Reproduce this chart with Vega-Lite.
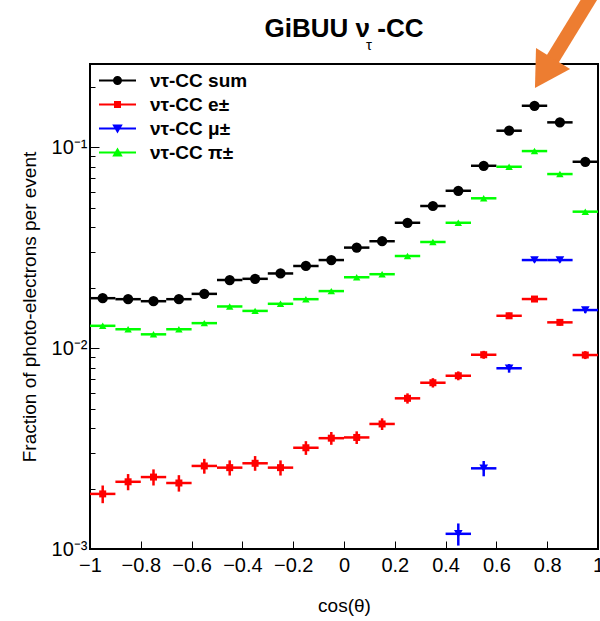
{
  "$schema": "https://vega.github.io/schema/vega-lite/v6.json",
  "width": 508,
  "height": 485,
  "autosize": {"type": "none"},
  "padding": {"left": 90, "top": 64, "right": 2, "bottom": 72},
  "background": "white",
  "config": {
    "view": {"stroke": "#000", "strokeWidth": 2},
    "font": "Liberation Sans"
  },
  "title": {
    "text": "GiBUU ν\u00a0-CC",
    "subtitle": "\u200b\u00a0\u00a0\u00a0\u00a0\u00a0\u00a0\u00a0\u00a0\u00a0\u00a0\u00a0\u00a0τ",
    "anchor": "middle",
    "frame": "group",
    "font": "Liberation Sans",
    "fontSize": 26,
    "fontWeight": "bold",
    "color": "#000",
    "subtitleFont": "Liberation Sans",
    "subtitleFontSize": 15,
    "subtitleColor": "#000",
    "subtitlePadding": -4,
    "offset": -70
  },
  "data": {
    "values": [
      {"s": "ντ-CC sum", "x": -0.95, "x0": -1, "x1": -0.9, "y": 0.0177},
      {"s": "ντ-CC sum", "x": -0.85, "x0": -0.9, "x1": -0.8, "y": 0.0175},
      {"s": "ντ-CC sum", "x": -0.75, "x0": -0.8, "x1": -0.7, "y": 0.0171},
      {"s": "ντ-CC sum", "x": -0.65, "x0": -0.7, "x1": -0.6, "y": 0.0175},
      {"s": "ντ-CC sum", "x": -0.55, "x0": -0.6, "x1": -0.5, "y": 0.0186},
      {"s": "ντ-CC sum", "x": -0.45, "x0": -0.5, "x1": -0.4, "y": 0.0218},
      {"s": "ντ-CC sum", "x": -0.35, "x0": -0.4, "x1": -0.3, "y": 0.0221},
      {"s": "ντ-CC sum", "x": -0.25, "x0": -0.3, "x1": -0.2, "y": 0.0235},
      {"s": "ντ-CC sum", "x": -0.15, "x0": -0.2, "x1": -0.1, "y": 0.0256},
      {"s": "ντ-CC sum", "x": -0.05, "x0": -0.1, "x1": 0, "y": 0.0274},
      {"s": "ντ-CC sum", "x": 0.05, "x0": 0, "x1": 0.1, "y": 0.0316},
      {"s": "ντ-CC sum", "x": 0.15, "x0": 0.1, "x1": 0.2, "y": 0.034},
      {"s": "ντ-CC sum", "x": 0.25, "x0": 0.2, "x1": 0.3, "y": 0.042},
      {"s": "ντ-CC sum", "x": 0.35, "x0": 0.3, "x1": 0.4, "y": 0.0509},
      {"s": "ντ-CC sum", "x": 0.45, "x0": 0.4, "x1": 0.5, "y": 0.0606},
      {"s": "ντ-CC sum", "x": 0.55, "x0": 0.5, "x1": 0.6, "y": 0.0807},
      {"s": "ντ-CC sum", "x": 0.65, "x0": 0.6, "x1": 0.7, "y": 0.1206},
      {"s": "ντ-CC sum", "x": 0.75, "x0": 0.7, "x1": 0.8, "y": 0.1605},
      {"s": "ντ-CC sum", "x": 0.85, "x0": 0.8, "x1": 0.9, "y": 0.1327},
      {"s": "ντ-CC sum", "x": 0.95, "x0": 0.9, "x1": 1, "y": 0.0845},

      {"s": "ντ-CC e±", "x": -0.95, "x0": -1, "x1": -0.9, "y": 0.00188, "lo": 0.00169, "hi": 0.00207},
      {"s": "ντ-CC e±", "x": -0.85, "x0": -0.9, "x1": -0.8, "y": 0.00216, "lo": 0.00196, "hi": 0.00236},
      {"s": "ντ-CC e±", "x": -0.75, "x0": -0.8, "x1": -0.7, "y": 0.00228, "lo": 0.00207, "hi": 0.00249},
      {"s": "ντ-CC e±", "x": -0.65, "x0": -0.7, "x1": -0.6, "y": 0.00213, "lo": 0.00193, "hi": 0.00233},
      {"s": "ντ-CC e±", "x": -0.55, "x0": -0.6, "x1": -0.5, "y": 0.00259, "lo": 0.00237, "hi": 0.00281},
      {"s": "ντ-CC e±", "x": -0.45, "x0": -0.5, "x1": -0.4, "y": 0.00254, "lo": 0.00232, "hi": 0.00276},
      {"s": "ντ-CC e±", "x": -0.35, "x0": -0.4, "x1": -0.3, "y": 0.00267, "lo": 0.00245, "hi": 0.0029},
      {"s": "ντ-CC e±", "x": -0.25, "x0": -0.3, "x1": -0.2, "y": 0.00254, "lo": 0.00232, "hi": 0.00276},
      {"s": "ντ-CC e±", "x": -0.15, "x0": -0.2, "x1": -0.1, "y": 0.00319, "lo": 0.00294, "hi": 0.00344},
      {"s": "ντ-CC e±", "x": -0.05, "x0": -0.1, "x1": 0, "y": 0.00356, "lo": 0.0033, "hi": 0.00382},
      {"s": "ντ-CC e±", "x": 0.05, "x0": 0, "x1": 0.1, "y": 0.00359, "lo": 0.00333, "hi": 0.00385},
      {"s": "ντ-CC e±", "x": 0.15, "x0": 0.1, "x1": 0.2, "y": 0.00419, "lo": 0.00391, "hi": 0.00447},
      {"s": "ντ-CC e±", "x": 0.25, "x0": 0.2, "x1": 0.3, "y": 0.00562, "lo": 0.00529, "hi": 0.00595},
      {"s": "ντ-CC e±", "x": 0.35, "x0": 0.3, "x1": 0.4, "y": 0.00672, "lo": 0.00636, "hi": 0.00708},
      {"s": "ντ-CC e±", "x": 0.45, "x0": 0.4, "x1": 0.5, "y": 0.00728, "lo": 0.00691, "hi": 0.00765},
      {"s": "ντ-CC e±", "x": 0.55, "x0": 0.5, "x1": 0.6, "y": 0.00926, "lo": 0.00884, "hi": 0.00968},
      {"s": "ντ-CC e±", "x": 0.65, "x0": 0.6, "x1": 0.7, "y": 0.01447, "lo": 0.01395, "hi": 0.01499},
      {"s": "ντ-CC e±", "x": 0.75, "x0": 0.7, "x1": 0.8, "y": 0.01753, "lo": 0.01695, "hi": 0.01811},
      {"s": "ντ-CC e±", "x": 0.85, "x0": 0.8, "x1": 0.9, "y": 0.01342, "lo": 0.01292, "hi": 0.01393},
      {"s": "ντ-CC e±", "x": 0.95, "x0": 0.9, "x1": 1, "y": 0.00923, "lo": 0.00881, "hi": 0.00965},

      {"s": "ντ-CC μ±", "x": 0.45, "x0": 0.4, "x1": 0.5, "y": 0.00119, "lo": 0.00104, "hi": 0.00134},
      {"s": "ντ-CC μ±", "x": 0.55, "x0": 0.5, "x1": 0.6, "y": 0.00252, "lo": 0.0023, "hi": 0.00274},
      {"s": "ντ-CC μ±", "x": 0.65, "x0": 0.6, "x1": 0.7, "y": 0.00793, "lo": 0.00754, "hi": 0.00832},
      {"s": "ντ-CC μ±", "x": 0.75, "x0": 0.7, "x1": 0.8, "y": 0.0274, "lo": 0.02668, "hi": 0.02812},
      {"s": "ντ-CC μ±", "x": 0.85, "x0": 0.8, "x1": 0.9, "y": 0.0274, "lo": 0.02668, "hi": 0.02812},
      {"s": "ντ-CC μ±", "x": 0.95, "x0": 0.9, "x1": 1, "y": 0.01545, "lo": 0.01491, "hi": 0.01599},

      {"s": "ντ-CC π±", "x": -0.95, "x0": -1, "x1": -0.9, "y": 0.0129},
      {"s": "ντ-CC π±", "x": -0.85, "x0": -0.9, "x1": -0.8, "y": 0.0124},
      {"s": "ντ-CC π±", "x": -0.75, "x0": -0.8, "x1": -0.7, "y": 0.0117},
      {"s": "ντ-CC π±", "x": -0.65, "x0": -0.7, "x1": -0.6, "y": 0.0124},
      {"s": "ντ-CC π±", "x": -0.55, "x0": -0.6, "x1": -0.5, "y": 0.0133},
      {"s": "ντ-CC π±", "x": -0.45, "x0": -0.5, "x1": -0.4, "y": 0.0161},
      {"s": "ντ-CC π±", "x": -0.35, "x0": -0.4, "x1": -0.3, "y": 0.0153},
      {"s": "ντ-CC π±", "x": -0.25, "x0": -0.3, "x1": -0.2, "y": 0.0166},
      {"s": "ντ-CC π±", "x": -0.15, "x0": -0.2, "x1": -0.1, "y": 0.0175},
      {"s": "ντ-CC π±", "x": -0.05, "x0": -0.1, "x1": 0, "y": 0.0192},
      {"s": "ντ-CC π±", "x": 0.05, "x0": 0, "x1": 0.1, "y": 0.0225},
      {"s": "ντ-CC π±", "x": 0.15, "x0": 0.1, "x1": 0.2, "y": 0.0233},
      {"s": "ντ-CC π±", "x": 0.25, "x0": 0.2, "x1": 0.3, "y": 0.0287},
      {"s": "ντ-CC π±", "x": 0.35, "x0": 0.3, "x1": 0.4, "y": 0.0337},
      {"s": "ντ-CC π±", "x": 0.45, "x0": 0.4, "x1": 0.5, "y": 0.042},
      {"s": "ντ-CC π±", "x": 0.55, "x0": 0.5, "x1": 0.6, "y": 0.0556},
      {"s": "ντ-CC π±", "x": 0.65, "x0": 0.6, "x1": 0.7, "y": 0.0798},
      {"s": "ντ-CC π±", "x": 0.75, "x0": 0.7, "x1": 0.8, "y": 0.0955},
      {"s": "ντ-CC π±", "x": 0.85, "x0": 0.8, "x1": 0.9, "y": 0.0734},
      {"s": "ντ-CC π±", "x": 0.95, "x0": 0.9, "x1": 1, "y": 0.0477}
    ]
  },
  "encoding": {
    "color": {
      "field": "s",
      "type": "nominal",
      "scale": {
        "domain": ["ντ-CC sum", "ντ-CC e±", "ντ-CC μ±", "ντ-CC π±"],
        "range": ["#000000", "#ff0000", "#0000ff", "#00ff00"]
      },
      "legend": {
        "orient": "none",
        "legendX": 18,
        "legendY": 7,
        "title": null,
        "padding": 0,
        "symbolSize": 4,
        "symbolStrokeWidth": 2,
        "symbolOpacity": 1,
        "labelFont": "Liberation Sans",
        "labelFontSize": 19,
        "labelFontWeight": "bold",
        "labelColor": "#000",
        "labelOffset": 23,
        "rowPadding": 4,
        "encode": {"symbols": {"update": {"stroke": {"scale": "color", "field": "value"}}}}
      }
    }
  },
  "layer": [
    {
      "mark": {"type": "rule", "strokeWidth": 2.5},
      "encoding": {
        "x": {
          "field": "x0",
          "type": "quantitative",
          "scale": {"domain": [-1, 1], "nice": false, "zero": false},
          "axis": {
            "values": [-1, -0.95, -0.9, -0.85, -0.8, -0.75, -0.7, -0.65, -0.6, -0.55, -0.5, -0.45, -0.4, -0.35, -0.3, -0.25, -0.2, -0.15, -0.1, -0.05, 0, 0.05, 0.1, 0.15, 0.2, 0.25, 0.3, 0.35, 0.4, 0.45, 0.5, 0.55, 0.6, 0.65, 0.7, 0.75, 0.8, 0.85, 0.9, 0.95, 1],
            "labelExpr": "abs(datum.value*5 - round(datum.value*5)) < 0.000001 ? format(datum.value, '.1~f') : ''",
            "tickSize": {"condition": {"test": "abs(datum.value*5 - round(datum.value*5)) < 0.000001", "value": -8}, "value": -4},
            "tickColor": "#000",
            "tickWidth": 1,
            "domain": false,
            "grid": false,
            "labelFont": "Liberation Sans",
            "labelFontSize": 20,
            "labelColor": "#000",
            "labelPadding": 14,
            "labelOverlap": false,
            "labelFlush": false,
            "title": "cos(θ)",
            "titleFont": "Liberation Sans",
            "titleFontSize": 19,
            "titleFontWeight": "normal",
            "titleColor": "#000",
            "titlePadding": 21
          }
        },
        "x2": {"field": "x1"},
        "y": {
          "field": "y",
          "type": "quantitative",
          "scale": {"type": "log", "domain": [0.001, 0.259], "nice": false},
          "axis": {
            "values": [0.001, 0.002, 0.003, 0.004, 0.005, 0.006, 0.007, 0.008, 0.009, 0.01, 0.02, 0.03, 0.04, 0.05, 0.06, 0.07, 0.08, 0.09, 0.1, 0.2],
            "labelExpr": "datum.value == 0.1 ? '10⁻¹' : datum.value == 0.01 ? '10⁻²' : datum.value == 0.001 ? '10⁻³' : ''",
            "tickSize": {"condition": {"test": "datum.value == 0.1 || datum.value == 0.01 || datum.value == 0.001", "value": -9}, "value": -5},
            "tickColor": "#000",
            "tickWidth": 1,
            "domain": false,
            "grid": false,
            "labelFont": "Liberation Sans",
            "labelFontSize": 20,
            "labelColor": "#000",
            "labelPadding": 12,
            "labelOverlap": false,
            "title": "Fraction of photo-electrons per event",
            "titleFont": "Liberation Sans",
            "titleFontSize": 19,
            "titleFontWeight": "normal",
            "titleColor": "#000",
            "titlePadding": 12
          }
        }
      }
    },
    {
      "transform": [{"filter": "isValid(datum.lo)"}],
      "mark": {"type": "rule", "strokeWidth": 2.5},
      "encoding": {
        "x": {"field": "x", "type": "quantitative", "scale": {"domain": [-1, 1], "nice": false, "zero": false}},
        "y": {"field": "lo", "type": "quantitative", "scale": {"type": "log", "domain": [0.001, 0.259], "nice": false}},
        "y2": {"field": "hi"}
      }
    },
    {
      "transform": [{"filter": "datum.s == 'ντ-CC sum'"}],
      "mark": {"type": "point", "shape": "circle", "filled": true, "size": 105, "opacity": 1},
      "encoding": {
        "x": {"field": "x", "type": "quantitative", "scale": {"domain": [-1, 1], "nice": false, "zero": false}},
        "y": {"field": "y", "type": "quantitative", "scale": {"type": "log", "domain": [0.001, 0.259], "nice": false}}
      }
    },
    {
      "transform": [{"filter": "datum.s == 'ντ-CC e±'"}],
      "mark": {"type": "point", "shape": "square", "filled": true, "size": 49, "opacity": 1},
      "encoding": {
        "x": {"field": "x", "type": "quantitative", "scale": {"domain": [-1, 1], "nice": false, "zero": false}},
        "y": {"field": "y", "type": "quantitative", "scale": {"type": "log", "domain": [0.001, 0.259], "nice": false}}
      }
    },
    {
      "transform": [{"filter": "datum.s == 'ντ-CC μ±'"}],
      "mark": {"type": "point", "shape": "triangle-down", "filled": true, "size": 75, "opacity": 1},
      "encoding": {
        "x": {"field": "x", "type": "quantitative", "scale": {"domain": [-1, 1], "nice": false, "zero": false}},
        "y": {"field": "y", "type": "quantitative", "scale": {"type": "log", "domain": [0.001, 0.259], "nice": false}}
      }
    },
    {
      "transform": [{"filter": "datum.s == 'ντ-CC π±'"}],
      "mark": {"type": "point", "shape": "triangle-up", "filled": true, "size": 55, "opacity": 1},
      "encoding": {
        "x": {"field": "x", "type": "quantitative", "scale": {"domain": [-1, 1], "nice": false, "zero": false}},
        "y": {"field": "y", "type": "quantitative", "scale": {"type": "log", "domain": [0.001, 0.259], "nice": false}}
      }
    },
    {
      "transform": [{"filter": "false"}],
      "mark": {"type": "point", "filled": true, "opacity": 1},
      "encoding": {
        "shape": {
          "field": "s",
          "type": "nominal",
          "scale": {
            "domain": ["ντ-CC sum", "ντ-CC e±", "ντ-CC μ±", "ντ-CC π±"],
            "range": [
              "M-18.5,0H18.5M3.5,0A3.5,3.5,0,1,1,-3.5,0A3.5,3.5,0,1,1,3.5,0Z",
              "M-18.5,0H18.5M-2.5,-2.5H2.5V2.5H-2.5Z",
              "M-18.5,0H18.5M-3.5,-3H3.5L0,3Z",
              "M-18.5,0H18.5M-3.5,3H3.5L0,-3Z"
            ]
          },
          "legend": {
            "orient": "none",
            "legendX": 18,
            "legendY": 7,
            "title": null,
            "padding": 0,
            "symbolSize": 4,
            "symbolStrokeWidth": 2,
            "symbolOpacity": 1,
            "labelFont": "Liberation Sans",
            "labelFontSize": 19,
            "labelFontWeight": "bold",
            "labelColor": "#000",
            "labelOffset": 23,
            "rowPadding": 4
          }
        }
      }
    },
    {
      "data": {"values": [{"x": 0.988, "y": 0.6046, "x2": 0.7874, "y2": 0.2331}]},
      "mark": {"type": "rule", "strokeWidth": 14, "strokeCap": "butt"},
      "encoding": {
        "color": {"value": "#ed7d31"},
        "x": {"field": "x", "type": "quantitative", "scale": {"domain": [-1, 1], "nice": false, "zero": false}},
        "y": {"field": "y", "type": "quantitative", "scale": {"type": "log", "domain": [0.001, 0.259], "nice": false}},
        "x2": {"field": "x2"},
        "y2": {"field": "y2"}
      }
    },
    {
      "data": {"values": [{"x": 0.7874, "y": 0.2331}]},
      "mark": {"type": "point", "shape": "triangle-down", "filled": true, "size": 1600, "angle": 31.5, "opacity": 1},
      "encoding": {
        "color": {"value": "#ed7d31"},
        "x": {"field": "x", "type": "quantitative", "scale": {"domain": [-1, 1], "nice": false, "zero": false}},
        "y": {"field": "y", "type": "quantitative", "scale": {"type": "log", "domain": [0.001, 0.259], "nice": false}}
      }
    }
  ]
}
